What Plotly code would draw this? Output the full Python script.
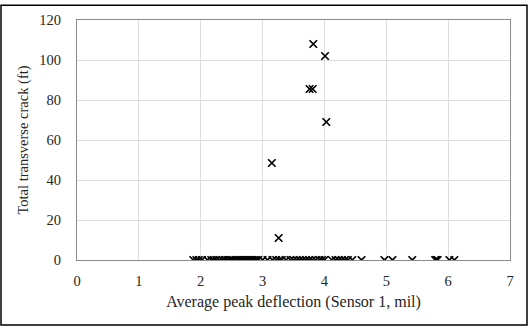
import plotly.graph_objects as go

# Sections with transverse cracking
crack_defl = [3.82, 4.01, 3.76, 3.81, 4.03, 3.15, 3.26]
crack_len = [108, 102, 85.5, 85.5, 69, 48.5, 11]

# Sections without transverse cracking (0 ft)
zero_defl = [1.88, 1.93, 1.97, 2.02, 2.11, 2.17, 2.21, 2.25, 2.3, 2.35, 2.39, 2.43,
             2.47, 2.5, 2.53, 2.57, 2.6, 2.63, 2.66, 2.69, 2.72, 2.75, 2.78, 2.81,
             2.84, 2.87, 2.9, 2.93, 3.0, 3.08, 3.16, 3.22, 3.27, 3.31, 3.38, 3.45,
             3.5, 3.55, 3.6, 3.65, 3.7, 3.75, 3.8, 3.86, 3.92, 3.96, 4.0, 4.12,
             4.18, 4.23, 4.28, 4.33, 4.38, 4.45, 4.6, 4.97, 5.1, 5.42, 5.79, 5.81,
             5.83, 6.02, 6.1]
zero_len = [0] * len(zero_defl)

x_vals = crack_defl + zero_defl
y_vals = crack_len + zero_len

fig = go.Figure(go.Scatter(
    x=x_vals, y=y_vals, mode="markers",
    marker=dict(symbol="x-thin", size=7.5, line=dict(color="black", width=1.7)),
    showlegend=False,
))

serif = "Liberation Serif, Times New Roman, serif"
tick_font = dict(family=serif, size=14.5, color="#262626")
axis_common = dict(
    showline=True, linecolor="#8c8c8c", linewidth=1.3, mirror=True,
    showgrid=True, gridcolor="#dedede", gridwidth=1, zeroline=False,
    ticks="", tickfont=tick_font,
)
fig.update_xaxes(range=[0, 7], dtick=1, tick0=0,
                 title_text="Average peak deflection (Sensor 1, mil)",
                 title_font=dict(family=serif, size=16, color="#262626"),
                 title_standoff=8, ticklabelstandoff=7, **axis_common)
fig.update_yaxes(range=[0, 120], dtick=20, tick0=0,
                 title_text="Total transverse crack (ft)",
                 title_font=dict(family=serif, size=14.5, color="#262626"),
                 title_standoff=7, ticklabelstandoff=12, **axis_common)

W, H = 529, 328
L, R, T, B = 77, 19, 16, 68
pw, ph = W - L - R, H - T - B
# black frame around the whole chart
fig.add_shape(type="rect", xref="paper", yref="paper",
              x0=(1 - L) / pw, x1=(W - 2 - L) / pw,
              y0=(H - B - 326) / ph, y1=(H - B - 1) / ph,
              line=dict(color="black", width=1.5), layer="below")

fig.update_layout(
    width=W, height=H, margin=dict(l=L, r=R, t=T, b=B),
    paper_bgcolor="white", plot_bgcolor="white",
)
fig.write_html("out.html")
